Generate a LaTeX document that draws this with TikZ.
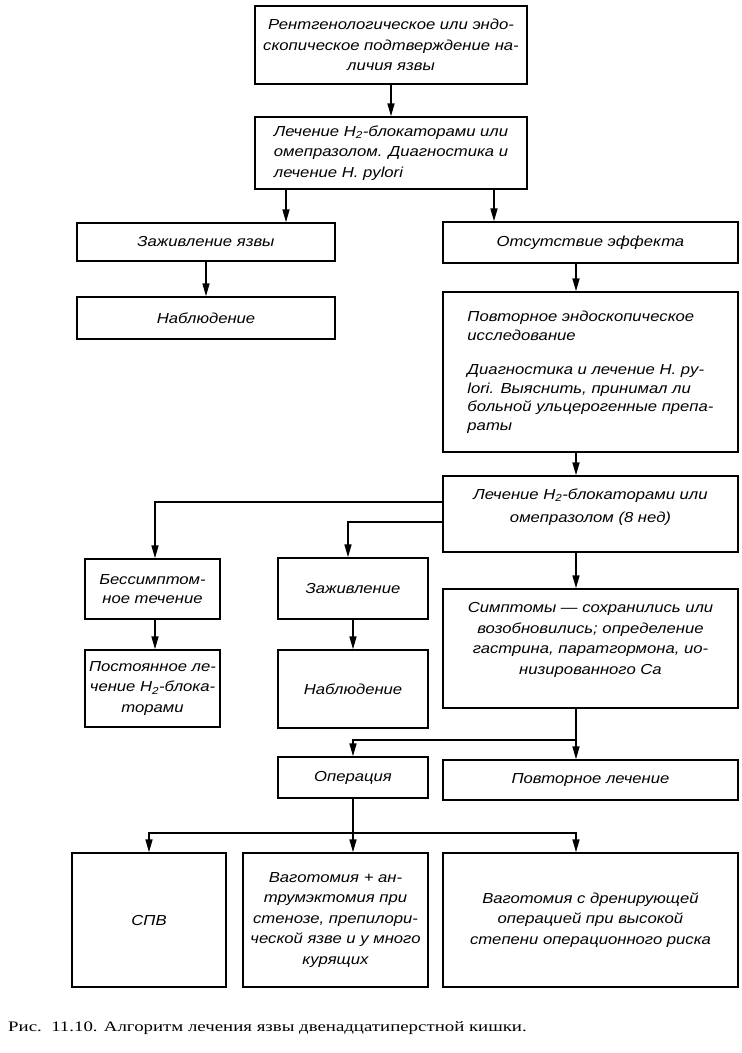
\documentclass[tikz,border=0pt]{standalone}
\usepackage{fontspec}
\setmainfont[FakeStretch=1.15]{Liberation Sans}
\newfontfamily\capfont{Liberation Serif}
\usetikzlibrary{arrows.meta,calc}
\begin{document}
\begin{tikzpicture}[x=1pt,y=-1pt,
  box/.style={draw, line width=1.4pt, inner xsep=7pt, inner ysep=3pt,
    font=\itshape\fontsize{14.5}{20.5}\selectfont, align=center},
  arr/.style={line width=1.6pt, -{Triangle[length=13pt,width=7pt]}},
  ln/.style={line width=1.6pt}]
\useasboundingbox (0,0) rectangle (742,1053);

\node[box, minimum width=272, minimum height=78] (b1) at (391,45)
  {Рентгенологическое или эндо-\\скопическое подтверждение на-\\личия язвы};
\node[box, align=left, minimum width=272, minimum height=72] (b2) at (391,153)
  {Лечение H\textsubscript{2}-блокаторами или\\омепразолом. Диагностика и\\лечение H. pylori};
\node[box, minimum width=258, minimum height=38] (b3) at (206,242) {Заживление язвы};
\node[box, minimum width=258, minimum height=42] (b4) at (206,318) {Наблюдение};
\node[box, minimum width=295, minimum height=41] (b5) at (590.5,242.5) {Отсутствие эффекта};
\node[box, align=left, minimum width=295, minimum height=160,
  font=\itshape\fontsize{14.5}{18.5}\selectfont] (b6) at (590.5,372)
  {Повторное эндоскопическое\\исследование\\[16pt]Диагностика и лечение H. py-\\lori. Выяснить, принимал ли\\больной ульцерогенные препа-\\раты};
\node[box, minimum width=295, minimum height=76,
  font=\itshape\fontsize{14.5}{23}\selectfont] (b7) at (590.5,514)
  {Лечение H\textsubscript{2}-блокаторами или\\омепразолом (8 нед)\\[-6pt]\mbox{}};
\node[box, inner xsep=2pt, minimum width=135, minimum height=60,
  font=\itshape\fontsize{14.5}{19}\selectfont] (b8) at (152.5,589) {Бессимптом-\\ное течение};
\node[box, inner xsep=2pt, minimum width=135, minimum height=77] (b9) at (152.5,688.5)
  {Постоянное ле-\\чение H\textsubscript{2}-блока-\\торами};
\node[box, minimum width=150, minimum height=61] (b10) at (353,588.5) {Заживление};
\node[box, minimum width=150, minimum height=78] (b11) at (353,689) {Наблюдение};
\node[box, minimum width=295, minimum height=119] (b12) at (590.5,648.5)
  {Симптомы — сохранились или\\возобновились; определение\\гастрина, паратгормона, ио-\\низированного Ca\\\mbox{}};
\node[box, minimum width=150, minimum height=41] (b13) at (353,777.5) {Операция};
\node[box, minimum width=295, minimum height=40] (b14) at (590.5,780) {Повторное лечение};
\node[box, minimum width=154, minimum height=134] (b15) at (149,920) {СПВ};
\node[box, inner xsep=3pt, minimum width=185, minimum height=134] (b16) at (335.5,920)
  {Ваготомия + ан-\\трумэктомия при\\стенозе, препилори-\\ческой язве и у много\\курящих};
\node[box, minimum width=295, minimum height=134] (b17) at (590.5,920)
  {Ваготомия с дренирующей\\операцией при высокой\\степени операционного риска};

\node[anchor=base west, inner sep=0, font=\capfont\fontsize{14.5}{17}\selectfont] (cap) at (8,1031)
  {\scalebox{1.3}[1]{Рис.~~11.10. Алгоритм лечения язвы двенадцатиперстной кишки.}};

\coordinate (xa) at (286,0);
\coordinate (xb) at (494,0);
\coordinate (xr) at (576,0);
\coordinate (xl) at (155,0);
\coordinate (xm) at (348,0);
\coordinate (j1) at (443,502);
\coordinate (j2) at (443,522);
\coordinate (j3) at (576,740);
\coordinate (j4) at (352,833);

\draw[arr] (b1) -- (b2);
\draw[arr] (b2.south -| xa) -- (b3.north -| xa);
\draw[arr] (b2.south -| xb) -- (b5.north -| xb);
\draw[arr] (b3) -- (b4);
\draw[arr] (b5.south -| xr) -- (b6.north -| xr);
\draw[arr] (b6.south -| xr) -- (b7.north -| xr);
\draw[arr] (b7.west |- j1) -| (b8.north -| xl);
\draw[arr] (b7.west |- j2) -| (b10.north -| xm);
\draw[arr] (b7.south -| xr) -- (b12.north -| xr);
\draw[arr] (b8.south -| xl) -- (b9.north -| xl);
\draw[arr] (b10) -- (b11);
\draw[arr] (b12.south -| xr) -- (b14.north -| xr);
\draw[arr] (j3) -| (b13.north);
\draw[arr] (b13.south) -- (b13.south |- b16.north);
\draw[arr] (b13.south |- j4) -| (b15.north);
\draw[arr] (b13.south |- j4) -| (b17.north -| xr);
\end{tikzpicture}
\end{document}
